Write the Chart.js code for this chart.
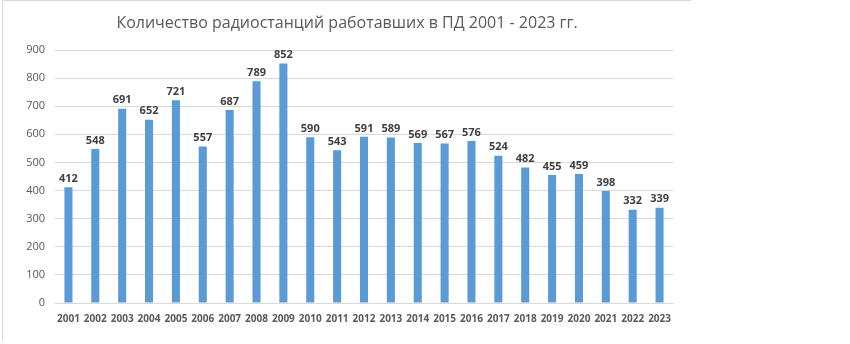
<!DOCTYPE html>
<html>
<head>
<meta charset="utf-8">
<script src="https://cdn.jsdelivr.net/npm/chart.js@4"></script>
<style>
  html, body { margin: 0; padding: 0; background: #fff; }
  #frame {
    position: absolute; left: 2px; top: 0;
    width: 688px; height: 340px;
    border-top: 1px solid #d9d9d9; border-left: 1px solid #d9d9d9;
  }
</style>
</head>
<body>
<div id="frame"><canvas id="stationsChart" width="688" height="340"></canvas></div>
<script>
const years = ['2001', '2002', '2003', '2004', '2005', '2006', '2007', '2008', '2009', '2010', '2011', '2012',
               '2013', '2014', '2015', '2016', '2017', '2018', '2019', '2020', '2021', '2022', '2023'];
const stations = [412, 548, 691, 652, 721, 557, 687, 789, 852, 590, 543, 591,
                  589, 569, 567, 576, 524, 482, 455, 459, 398, 332, 339];
const titleText = 'Количество радиостанций работавших в ПД 2001 - 2023 гг.';

const fontFamily = '"Open Sans", "Noto Sans", sans-serif';

// Title centred on the whole chart frame, not on the plot area
const frameTitle = {
    id: 'frameTitle',
    afterDraw(chart) {
        const { ctx } = chart;
        ctx.save();
        ctx.font = '16px ' + fontFamily;
        ctx.fillStyle = '#595959';
        ctx.textAlign = 'center';
        ctx.textBaseline = 'middle';
        ctx.fillText(titleText, chart.width / 2, 22);
        ctx.restore();
    }
};

// Value labels above each bar
const barLabels = {
    id: 'barLabels',
    afterDatasetsDraw(chart) {
        const { ctx } = chart;
        const meta = chart.getDatasetMeta(0);
        ctx.save();
        ctx.font = 'bold 11px ' + fontFamily;
        ctx.fillStyle = '#404040';
        ctx.textAlign = 'center';
        ctx.textBaseline = 'bottom';
        meta.data.forEach((bar, i) => {
            ctx.fillText(stations[i], bar.x, bar.y - 3);
        });
        ctx.restore();
    }
};

new Chart(document.getElementById('stationsChart'), {
    type: 'bar',
    data: {
        labels: years,
        datasets: [{
            data: stations,
            backgroundColor: '#5b9bd5',
            barPercentage: 0.6,
            categoryPercentage: 0.5
        }]
    },
    options: {
        responsive: false,
        animation: false,
        layout: { padding: { left: 0, right: 18, top: 49, bottom: 14 } },
        plugins: {
            legend: { display: false },
            tooltip: { enabled: false },
            title: { display: false }
        },
        scales: {
            x: {
                grid: { display: false },
                border: { color: '#d9d9d9' },
                ticks: {
                    color: '#595959',
                    font: { family: fontFamily, size: 10, weight: 'bold' },
                    maxRotation: 0,
                    autoSkip: false,
                    padding: 2
                }
            },
            y: {
                min: 0,
                max: 900,
                afterFit(scale) { scale.width = 52; },
                grid: { color: '#d9d9d9', drawTicks: false },
                border: { display: false },
                ticks: {
                    stepSize: 100,
                    color: '#595959',
                    font: { family: fontFamily, size: 11 },
                    padding: 10
                }
            }
        }
    },
    plugins: [barLabels, frameTitle]
});
</script>
</body>
</html>
